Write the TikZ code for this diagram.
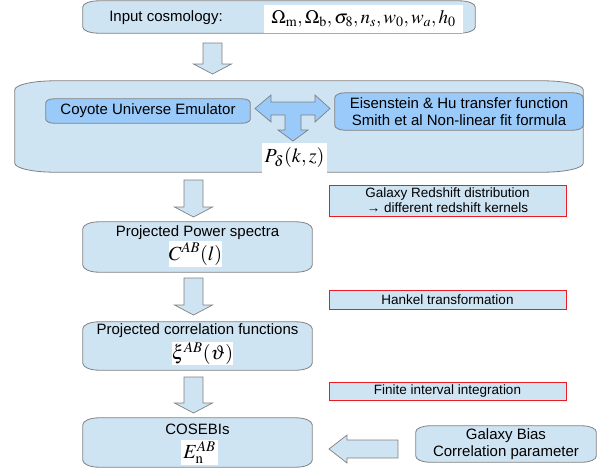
\documentclass[tikz,border=0pt]{standalone}
\usepackage{mathptmx}
\usepackage[no-math]{fontspec}
\setmainfont{Liberation Sans}
\usepackage{tikz}

\definecolor{paleblue}{RGB}{207,228,243}
\definecolor{midblue}{RGB}{153,202,250}
\definecolor{edgegrey}{RGB}{128,128,128}
\definecolor{notered}{RGB}{236,28,36}

\begin{document}
\begin{tikzpicture}[x=1pt,y=-1pt,
    every node/.style={font=\fontsize{15}{17}\selectfont, align=center},
    hole/.style={inner sep=0pt},
    note/.style={draw=notered, line width=0.9pt, fill=paleblue, inner sep=0pt,
      font=\fontsize{13.5}{15}\selectfont},
    patch/.style={fill=white, inner sep=0pt, font=\fontsize{20}{22}\selectfont},
    fat/.style={draw=edgegrey, fill=paleblue, line width=0.7pt}]

  \useasboundingbox (0,0) rectangle (602,472);

  % box places
  \foreach \n/\x/\y/\w/\h in {
    input/279/17/392/32,
    big/299/126.5/568/91,
    coyote/148/111/204/24,
    eisen/459/111.5/248/37,
    power/197.5/247/229/50,
    corr/197.5/346/229/48,
    cosebis/197.5/442.5/229/49,
    bias/506/444/180/36%
  } { \node[hole, minimum width=\w pt, minimum height=\h pt] (\n) at (\x,\y) {}; }

  % soft outlines
  \foreach \n/\c/\rx/\ry in {
    input/paleblue/16/6,
    big/paleblue/40/9,
    coyote/midblue/8/4,
    eisen/midblue/10/5,
    power/paleblue/16/7,
    corr/paleblue/16/7,
    cosebis/paleblue/16/7,
    bias/paleblue/14/6%
  } { \draw[edgegrey, line width=0.8pt, fill=\c]
      ([yshift=-\ry pt]\n.north west)
        arc[start angle=180, end angle=90, x radius=\rx pt, y radius=\ry pt]
      -- ([xshift=-\rx pt]\n.north east)
        arc[start angle=90, end angle=0, x radius=\rx pt, y radius=\ry pt]
      -- ([yshift=\ry pt]\n.south east)
        arc[start angle=0, end angle=-90, x radius=\rx pt, y radius=\ry pt]
      -- ([xshift=\rx pt]\n.south west)
        arc[start angle=270, end angle=180, x radius=\rx pt, y radius=\ry pt]
      -- cycle; }

  % block arrows
  \foreach \x/\ya/\yb in {212.5/43/74, 193.5/180/217, 193.5/278/315, 193.5/377/413}
    \draw[fat] (\x-9.5,\ya) -- (\x+9.5,\ya) -- (\x+9.5,\yb-10) -- (\x+19,\yb-10)
      -- (\x,\yb) -- (\x-19,\yb-10) -- (\x-9.5,\yb-10) -- cycle;
  \draw[fat] (329,449) -- (347,435) -- (347,440) -- (398,440) -- (398,458)
    -- (347,458) -- (347,463) -- cycle;
  \draw[fat, fill=midblue] (255,108.5) -- (271,95) -- (271,102) -- (315,102)
    -- (315,95) -- (330,108.5) -- (315,122) -- (315,115) -- (301,115)
    -- (301,130) -- (308,130) -- (293,141) -- (278,130) -- (285,130)
    -- (285,115) -- (271,115) -- (271,122) -- cycle;

  % texts
  \node (inputlbl) at (166,18) {Input cosmology:};
  \node[patch, minimum width=199pt, minimum height=28pt, font=\fontsize{19}{21}\selectfont]
    (cosmo) at (363.5,19)
    {$\Omega_{\mathrm{m}}, \Omega_{\mathrm{b}}, \sigma_8, n_s, w_0, w_a, h_0$};
  \node (coyotelbl) at (coyote) {Coyote Universe Emulator};
  \node (eisenlbl) at (eisen) {Eisenstein \& Hu transfer function\\Smith et al Non-linear fit formula};
  \node[patch, minimum width=65pt, minimum height=30pt] (pk) at (294.5,157.5) {$P_\delta(k,z)$};
  \node (powerlbl) at (197.5,233) {Projected Power spectra};
  \node[patch, minimum width=53pt, minimum height=26pt] (cl) at (195.5,254) {$C^{AB}(l)$};
  \node (corrlbl) at (197.5,331) {Projected correlation functions};
  \node[patch, minimum width=59pt, minimum height=23pt] (xi) at (202.5,353.5) {$\xi^{AB}(\vartheta)$};
  \node (cosebislbl) at (197.5,429) {COSEBIs};
  \node[patch, minimum width=37pt, minimum height=25pt] (en) at (199.5,452.5) {$E_{\mathrm{n}}^{AB}$};
  \node (biaslbl) at (bias) {Galaxy Bias\\Correlation parameter};

  % side notes
  \node[note, minimum width=237pt, minimum height=31pt] (zdist) at (447.5,200.5)
    {Galaxy Redshift distribution\\→ different redshift kernels};
  \node[note, minimum width=237pt, minimum height=19pt] (hankel) at (447.5,299.5) {Hankel transformation};
  \node[note, minimum width=237pt, minimum height=18pt] (finite) at (447.5,391) {Finite interval integration};
\end{tikzpicture}
\end{document}
